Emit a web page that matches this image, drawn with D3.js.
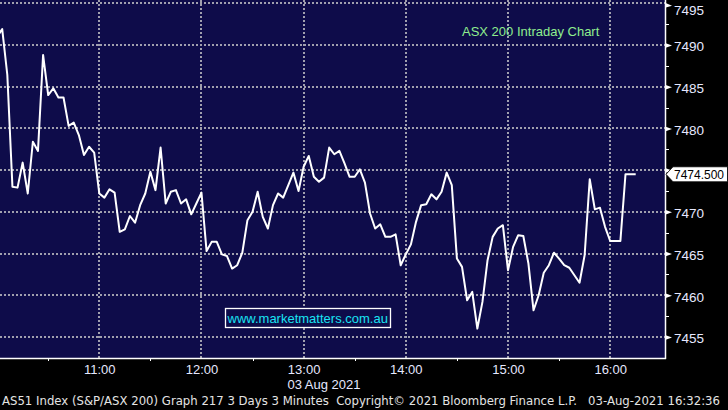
<!DOCTYPE html>
<html>
<head>
<meta charset="utf-8">
<script src="https://cdn.jsdelivr.net/npm/d3@7"></script>
<style>
  html, body { margin: 0; padding: 0; background: #000; }
  svg { display: block; }
</style>
</head>
<body>
<svg id="chart" width="728" height="410"></svg>
<script>
// ASX 200 intraday, 3 minute bars, 03 Aug 2021

const times = [
  '10:00','10:03','10:06','10:09','10:12','10:15','10:18','10:21','10:24','10:27','10:30','10:33','10:36','10:39','10:42','10:45','10:48','10:51','10:54','10:57',
  '11:00','11:03','11:06','11:09','11:12','11:15','11:18','11:21','11:24','11:27','11:30','11:33','11:36','11:39','11:42','11:45','11:48','11:51','11:54','11:57',
  '12:00','12:03','12:06','12:09','12:12','12:15','12:18','12:21','12:24','12:27','12:30','12:33','12:36','12:39','12:42','12:45','12:48','12:51','12:54','12:57',
  '13:00','13:03','13:06','13:09','13:12','13:15','13:18','13:21','13:24','13:27','13:30','13:33','13:36','13:39','13:42','13:45','13:48','13:51','13:54','13:57',
  '14:00','14:03','14:06','14:09','14:12','14:15','14:18','14:21','14:24','14:27','14:30','14:33','14:36','14:39','14:42','14:45','14:48','14:51','14:54','14:57',
  '15:00','15:03','15:06','15:09','15:12','15:15','15:18','15:21','15:24','15:27','15:30','15:33','15:36','15:39','15:42','15:45','15:48','15:51','15:54','15:57',
  '16:00','16:03','16:06','16:09','16:12','16:15'
]

const prices = [
  7491.0, 7491.9, 7486.4, 7473.0, 7472.9, 7475.9, 7472.2, 7478.4, 7477.3, 7488.8, 7484.0, 7484.8, 7483.7, 7483.7, 7480.3, 7480.7, 7479.2, 7476.8, 7477.8, 7477.1,
  7472.2, 7471.7, 7472.7, 7472.3, 7467.6, 7467.9, 7469.5, 7468.7, 7470.8, 7472.2, 7474.8, 7472.6, 7477.7, 7471.0, 7472.4, 7472.6, 7471.0, 7471.5, 7469.7, 7471.0,
  7472.3, 7465.3, 7466.4, 7466.4, 7464.9, 7464.7, 7463.2, 7463.6, 7465.1, 7469.0, 7470.0, 7472.4, 7469.4, 7468.0, 7470.8, 7472.2, 7471.7, 7473.2, 7474.7, 7472.5,
  7475.4, 7476.7, 7474.2, 7473.6, 7474.1, 7477.7, 7476.9, 7477.3, 7475.8, 7474.2, 7474.2, 7475.1, 7473.5, 7469.8, 7468.0, 7468.5, 7467.0, 7467.0, 7467.3, 7463.6,
  7464.9, 7466.1, 7468.8, 7470.8, 7470.9, 7472.1, 7471.5, 7472.4, 7474.7, 7473.2, 7464.4, 7463.4, 7459.4, 7460.4, 7456.0, 7459.2, 7464.2, 7467.0, 7468.0, 7468.4,
  7463.0, 7465.8, 7467.2, 7467.1, 7463.8, 7458.2, 7460.0, 7462.7, 7463.6, 7465.1, 7464.4, 7463.6, 7463.3, 7462.4, 7461.5, 7464.8, 7473.9, 7470.3, 7470.5, 7468.2,
  7466.5, 7466.5, 7466.5, 7474.5, 7474.5, 7474.5
]

const priceTicks = [7455, 7460, 7465, 7470, 7475, 7480, 7485, 7490, 7495]
const priceMinorTicks = [7457.5, 7462.5, 7467.5, 7472.5, 7477.5, 7482.5, 7487.5, 7492.5]
const hourTicks = ['11:00', '12:00', '13:00', '14:00', '15:00', '16:00']
const halfHourTicks = ['10:30', '11:30', '12:30', '13:30', '14:30', '15:30']
const lastPrice = 7474.5
const chartTitle = 'ASX 200 Intraday Chart'
const dateLabel = '03 Aug 2021'
const watermark = 'www.marketmatters.com.au'
const footer = 'AS51 Index (S&P/ASX 200) Graph 217 3 Days 3 Minutes  Copyright\u00a9 2021 Bloomberg Finance L.P.   03-Aug-2021 16:32:36'

const width = 728
const height = 410
const plot = { left: 0, top: 0, right: 665, bottom: 358 }

const toMinutes = s => {
  const [h, m] = s.split(':').map(Number)
  return (h - 10) * 60 + m
}

const data = times.map((t, i) => ({ t: toMinutes(t), v: prices[i] }))

const svg = d3.select('#chart')

svg.append('rect')
  .attr('width', width)
  .attr('height', height)
  .attr('fill', '#000')

svg.append('rect')
  .attr('x', plot.left)
  .attr('y', plot.top)
  .attr('width', plot.right - plot.left)
  .attr('height', plot.bottom - plot.top)
  .attr('fill', '#0e0c4a')

const x = d3.scaleLinear()
  .domain([1.7, 392.2])
  .range([plot.left, plot.right])

const y = d3.scaleLinear()
  .domain([7452.48, 7495.39])
  .range([plot.bottom, plot.top])

svg.append('clipPath')
  .attr('id', 'plot-clip')
  .append('rect')
  .attr('x', plot.left)
  .attr('y', plot.top)
  .attr('width', plot.right - plot.left)
  .attr('height', plot.bottom - plot.top)

// dotted grid
const grid = svg.append('g')
  .attr('stroke', '#a0a0ae')
  .attr('stroke-width', 2)
  .attr('stroke-dasharray', '2,2')

grid.selectAll('.hgrid')
  .data(priceTicks)
  .enter()
  .append('line')
  .attr('x1', plot.left)
  .attr('x2', plot.right)
  .attr('y1', d => Math.round(y(d)))
  .attr('y2', d => Math.round(y(d)))

grid.selectAll('.vgrid')
  .data(hourTicks)
  .enter()
  .append('line')
  .attr('x1', d => Math.round(x(toMinutes(d))))
  .attr('x2', d => Math.round(x(toMinutes(d))))
  .attr('y1', plot.top)
  .attr('y2', plot.bottom)

// title
svg.append('text')
  .attr('x', 462)
  .attr('y', 36)
  .attr('font-family', 'Liberation Sans, Arial, sans-serif')
  .attr('font-size', '13px')
  .attr('fill', '#8eee8e')
  .text(chartTitle)

// watermark
svg.append('rect')
  .attr('x', 225.5)
  .attr('y', 308.5)
  .attr('width', 165)
  .attr('height', 19)
  .attr('fill', '#0e0c4a')
  .attr('stroke', '#ffffff')
  .attr('stroke-width', 1.3)

svg.append('text')
  .attr('x', 227.5)
  .attr('y', 323)
  .attr('font-family', 'Liberation Sans, Arial, sans-serif')
  .attr('font-size', '13px')
  .attr('fill', '#19e3f2')
  .text(watermark)

// price line
const line = d3.line()
  .x(d => x(d.t))
  .y(d => y(d.v))

svg.append('path')
  .datum(data)
  .attr('clip-path', 'url(#plot-clip)')
  .attr('fill', 'none')
  .attr('stroke', '#ffffff')
  .attr('stroke-width', 2)
  .attr('stroke-linejoin', 'round')
  .attr('d', line)

// right axis (the 7475 label sits under the last price tag)
const yAxis = svg.append('g')
  .attr('transform', `translate(${plot.right},0)`)
  .call(d3.axisRight(y).tickValues(priceTicks).tickSize(0).tickPadding(9)
    .tickFormat(d => Math.abs(d - lastPrice) < 2 ? '' : d3.format('d')(d)))

yAxis.select('.domain').remove()
yAxis.selectAll('text')
  .attr('font-family', 'Liberation Sans, Arial, sans-serif')
  .attr('font-size', '13.5px')
  .attr('fill', '#e6e8ff')
  .attr('dy', null)
  .attr('y', d => Math.max(6, 14.5 - y(d)))

yAxis.selectAll('.tick')
  .append('path')
  .attr('d', d => y(d) < 4 ? 'M0,-1L7,2L0,4Z' : 'M0,-2.5L7,0L0,2.5Z')
  .attr('fill', '#ffffff')

svg.append('g')
  .selectAll('line')
  .data(priceMinorTicks)
  .enter()
  .append('line')
  .attr('x1', plot.right)
  .attr('x2', plot.right + 4)
  .attr('y1', d => Math.round(y(d)) + 0.5)
  .attr('y2', d => Math.round(y(d)) + 0.5)
  .attr('stroke', '#ffffff')

svg.append('line')
  .attr('x1', plot.right + 0.5)
  .attr('x2', plot.right + 0.5)
  .attr('y1', 0)
  .attr('y2', plot.bottom + 1)
  .attr('stroke', '#ffffff')
  .attr('stroke-width', 1.5)

// bottom axis
const xAxis = svg.append('g')
  .attr('transform', `translate(0,${plot.bottom})`)
  .call(d3.axisBottom(x).tickValues(hourTicks.map(toMinutes)).tickSize(0).tickPadding(6)
    .tickFormat(d => hourTicks[hourTicks.map(toMinutes).indexOf(d)]))

xAxis.select('.domain').remove()
xAxis.selectAll('text')
  .attr('font-family', 'Liberation Sans, Arial, sans-serif')
  .attr('font-size', '13px')
  .attr('fill', '#e6e8ff')
  .attr('dy', null)
  .attr('y', 15.5)

svg.append('g')
  .selectAll('line')
  .data(halfHourTicks)
  .enter()
  .append('line')
  .attr('x1', d => Math.round(x(toMinutes(d))) + 0.5)
  .attr('x2', d => Math.round(x(toMinutes(d))) + 0.5)
  .attr('y1', plot.bottom)
  .attr('y2', plot.bottom + 3)
  .attr('stroke', '#ffffff')

svg.append('line')
  .attr('x1', plot.left)
  .attr('x2', plot.right + 1)
  .attr('y1', plot.bottom + 0.5)
  .attr('y2', plot.bottom + 0.5)
  .attr('stroke', '#ffffff')
  .attr('stroke-width', 1.5)

svg.append('text')
  .attr('x', 324)
  .attr('y', 389)
  .attr('text-anchor', 'middle')
  .attr('font-family', 'Liberation Sans, Arial, sans-serif')
  .attr('font-size', '13px')
  .attr('fill', '#e6e8ff')
  .text(dateLabel)

// last price tag
const tagY = y(lastPrice)
svg.append('path')
  .attr('d', `M666,${tagY}L673,${tagY - 7.5}L727.5,${tagY - 7.5}L727.5,${tagY + 7.5}L673,${tagY + 7.5}Z`)
  .attr('fill', '#ffffff')
  .attr('stroke', '#000')
  .attr('stroke-width', 0.8)

svg.append('text')
  .attr('x', 674)
  .attr('y', tagY + 4.5)
  .attr('font-family', 'Liberation Sans, Arial, sans-serif')
  .attr('font-size', '13px')
  .attr('fill', '#000')
  .attr('textLength', 50)
  .attr('lengthAdjust', 'spacingAndGlyphs')
  .text(d3.format('.3f')(lastPrice))

// footer
svg.append('text')
  .attr('x', 2)
  .attr('y', 404.5)
  .attr('font-family', 'DejaVu Sans Condensed, DejaVu Sans, sans-serif')
  .attr('font-size', '12.5px')
  .attr('fill', '#e4e4e4')
  .style('white-space', 'pre')
  .attr('textLength', 718)
  .attr('lengthAdjust', 'spacingAndGlyphs')
  .text(footer)
</script>
</body>
</html>
